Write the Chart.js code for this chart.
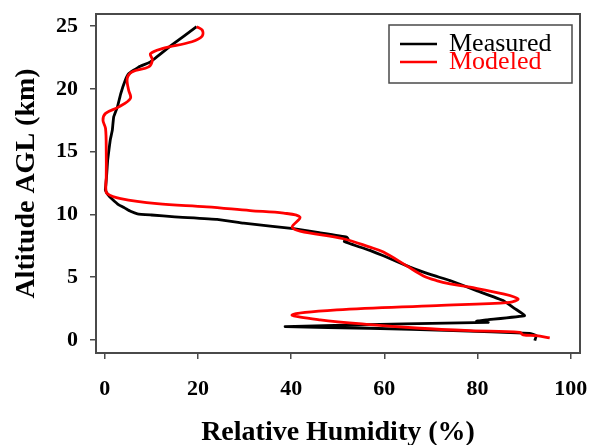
<!DOCTYPE html>
<html>
<head>
<meta charset="utf-8">
<script src="https://cdn.jsdelivr.net/npm/chart.js@4.4.0/dist/chart.umd.min.js"></script>
<style>
  html, body { margin: 0; padding: 0; background: #fff; }
</style>
</head>
<body>
<canvas id="grafico" width="591" height="445"></canvas>
<script>
// perfil medido (umidade relativa % x altitude km)
const measuredRH = [19.7, 14.4, 9.8, 7.3, 5.1, 4.4, 3.4, 2.7, 1.9, 1.6, 1.2, 0.9, 0.6, 0.4, 0.2, 0.1, 0.7, 1.6, 3.0, 4.3, 5.5, 7.0, 10.0, 15.0, 24.1, 29.8, 35.5, 40.5, 46.0, 51.9, 52.3, 51.4, 56.9, 59.8, 65.5, 70.0, 74.1, 79.8, 85.5, 88.0, 90.1, 81.9, 79.8, 82.3, 64.1, 38.7, 56.9, 74.8, 91.2, 92.6, 92.3]
const measuredAlt = [24.95, 23.5, 22.15, 21.75, 21.2, 20.7, 19.6, 18.56, 17.77, 16.7, 16.0, 15.2, 14.3, 13.2, 12.3, 11.95, 11.55, 11.2, 10.75, 10.5, 10.25, 10.05, 9.95, 9.8, 9.6, 9.3, 9.07, 8.86, 8.55, 8.2, 7.98, 7.85, 7.13, 6.7, 5.8, 5.2, 4.73, 3.93, 3.14, 2.5, 1.94, 1.6, 1.49, 1.4, 1.28, 1.06, 0.93, 0.74, 0.53, 0.34, -0.05]

// perfil modelado
const modeledRH = [19.7, 20.9, 20.9, 18.7, 12.3, 9.8, 10.2, 9.4, 5.9, 4.8, 5.1, 5.5, 3.0, 0.15, -0.4, 0.15, 0.3, 0.3, 0.2, 0.5, 3.4, 11.2, 21.9, 31.2, 38.4, 41.9, 40.2, 41.9, 51.2, 56.9, 59.8, 64.8, 68.4, 71.2, 74.1, 78.4, 85.5, 88.7, 86.9, 71.2, 49.8, 40.2, 46.2, 56.9, 67.6, 78.4, 89.1, 89.8, 92.6, 95.5]
const modeledAlt = [24.95, 24.68, 24.2, 23.75, 23.2, 22.8, 22.3, 21.75, 21.36, 20.83, 19.9, 19.24, 18.56, 18.04, 17.5, 16.84, 15.0, 13.0, 12.1, 11.65, 11.25, 10.85, 10.6, 10.3, 10.1, 9.78, 8.99, 8.67, 8.06, 7.39, 7.0, 5.9, 5.1, 4.73, 4.47, 4.2, 3.67, 3.27, 3.0, 2.74, 2.39, 2.0, 1.6, 1.22, 0.93, 0.74, 0.61, 0.4, 0.34, 0.16]

// marcas dos eixos
const xTicks = [0, 20, 40, 60, 80, 100]
const yTicks = [0, 5, 10, 15, 20, 25]

const toPoints = (xs, ys) => xs.map((x, i) => ({ x, y: ys[i] }))

const axisColor = '#4a4a4a'
const serif = "'Liberation Serif', 'Times New Roman', serif"

// moldura em volta da área do gráfico + legenda dentro dela
const boxPlugin = {
  id: 'boxPlugin',
  afterDatasetsDraw(chart) {
    const { ctx, chartArea: a } = chart
    ctx.save()
    ctx.strokeStyle = axisColor
    ctx.lineWidth = 2
    ctx.strokeRect(a.left, a.top, a.right - a.left, a.bottom - a.top)

    // legenda
    const bx = a.right - 191, by = a.top + 11, bw = 183, bh = 58
    ctx.fillStyle = '#fff'
    ctx.fillRect(bx, by, bw, bh)
    ctx.lineWidth = 1.5
    ctx.strokeRect(bx, by, bw, bh)
    const items = [chart.data.datasets[0], chart.data.datasets[1]]
    items.forEach((ds, i) => {
      const y = by + 19 + i * 18
      ctx.strokeStyle = ds.borderColor
      ctx.lineWidth = 2.5
      ctx.beginPath()
      ctx.moveTo(bx + 11, y)
      ctx.lineTo(bx + 48, y)
      ctx.stroke()
      ctx.fillStyle = ds.borderColor
      ctx.font = '26px ' + serif
      ctx.textBaseline = 'middle'
      ctx.textAlign = 'left'
      ctx.fillText(ds.label, bx + 60, y)
    })
    ctx.restore()
  },
}

const ctx = document.getElementById('grafico').getContext('2d')
new Chart(ctx, {
  type: 'scatter',
  data: {
    datasets: [
      {
        label: 'Measured',
        data: toPoints(measuredRH, measuredAlt),
        showLine: true,
        borderColor: '#000000',
        borderWidth: 2.8,
        pointRadius: 0,
        tension: 0.1,
        order: 1,
      },
      {
        label: 'Modeled',
        data: toPoints(modeledRH, modeledAlt),
        showLine: true,
        borderColor: '#ff0000',
        borderWidth: 2.8,
        pointRadius: 0,
        tension: 0.35,
        order: 0,
      },
    ],
  },
  options: {
    responsive: false,
    animation: false,
    devicePixelRatio: 1,
    layout: { padding: { top: 14, right: 11, left: 0, bottom: 0 } },
    plugins: {
      legend: { display: false },
      tooltip: { enabled: false },
    },
    scales: {
      x: {
        type: 'linear',
        min: -1.9,
        max: 102,
        afterBuildTicks: s => { s.ticks = xTicks.map(value => ({ value })) },
        afterFit: s => {
          s.height = 92
          s.paddingLeft = 0
          s.paddingRight = 0
        },
        grid: { drawOnChartArea: false, drawTicks: true, tickLength: 6, color: axisColor, lineWidth: 1.5 },
        border: { display: false },
        ticks: { color: '#000', padding: 17, font: { family: serif, size: 22, weight: 'bold' } },
        title: {
          display: true,
          text: 'Relative Humidity (%)',
          color: '#000',
          padding: { top: 0, bottom: -5 },
          font: { family: serif, size: 28, weight: 'bold' },
        },
      },
      y: {
        type: 'linear',
        min: -1.04,
        max: 25.96,
        afterBuildTicks: s => { s.ticks = yTicks.map(value => ({ value })) },
        afterFit: s => {
          s.width = 96
          s.paddingTop = 0
          s.paddingBottom = 0
        },
        grid: { drawOnChartArea: false, drawTicks: true, tickLength: 6, color: axisColor, lineWidth: 1.5 },
        border: { display: false },
        ticks: { color: '#000', padding: 12, font: { family: serif, size: 22, weight: 'bold' } },
        title: {
          display: true,
          text: 'Altitude AGL (km)',
          color: '#000',
          padding: { top: 10, bottom: 0 },
          font: { family: serif, size: 28, weight: 'bold' },
        },
      },
    },
  },
  plugins: [boxPlugin],
})
</script>
</body>
</html>
